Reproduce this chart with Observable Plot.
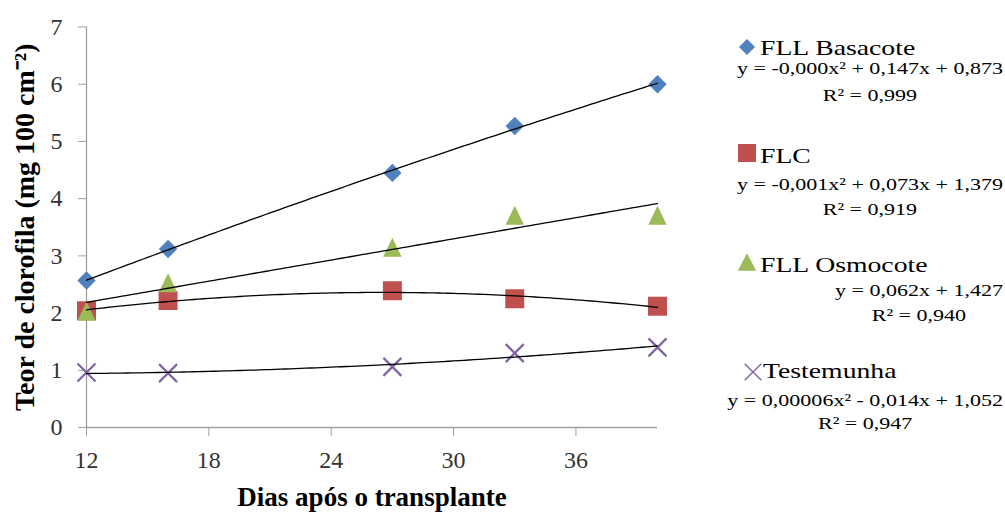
<!DOCTYPE html>
<html><head><meta charset="utf-8">
<script src="https://cdn.jsdelivr.net/npm/d3@7"></script>
<script src="https://cdn.jsdelivr.net/npm/@observablehq/plot@0.6"></script>
<style>
html,body{margin:0;padding:0;background:#fff;}
#wrap{position:relative;width:1005px;height:514px;overflow:hidden;background:#fff;}
#wrap svg{position:absolute;left:0;top:0;}
</style></head><body><div id="wrap"></div>
<script>
// ---- data ----
const days = [12, 16, 27, 33, 40];
const basacote = [2.57, 3.12, 4.45, 5.27, 6.00];
const flc = [2.04, 2.22, 2.39, 2.25, 2.12];
const osmocote = [2.03, 2.53, 3.15, 3.71, 3.71];
const testemunha = [0.96, 0.95, 1.06, 1.30, 1.40];
const seriesNames = ["FLL Basacote", "FLC", "FLL Osmocote", "Testemunha"];
const equations = ["y = -0,000x² + 0,147x + 0,873", "y = -0,001x² + 0,073x + 1,379", "y = 0,062x + 1,427", "y = 0,00006x² - 0,014x + 1,052"];
const r2Labels = ["R² = 0,999", "R² = 0,919", "R² = 0,940", "R² = 0,947"];
const fitDegrees = [2, 2, 1, 2];
const xTicks = [12, 18, 24, 30, 36];
const yTicks = [0, 1, 2, 3, 4, 5, 6, 7];
const xTitle = "Dias após o transplante";
const yTitle = "Teor de clorofila (mg 100 cm⁻²)";

// ---- style ----
const FONT = "'Liberation Serif', 'Times New Roman', serif";
const colors = ["#4F81BD", "#C0504D", "#9BBB59", "#8064A2"];
const seriesValues = [basacote, flc, osmocote, testemunha];

const makeSym = {
  diamond: (h) => ({draw(c){c.moveTo(0,-h);c.lineTo(h,0);c.lineTo(0,h);c.lineTo(-h,0);c.closePath();}}),
  square: (h) => ({draw(c){c.moveTo(-h,-h);c.lineTo(h,-h);c.lineTo(h,h);c.lineTo(-h,h);c.closePath();}}),
  triangle: (w,h) => ({draw(c){c.moveTo(0,-h);c.lineTo(w,h);c.lineTo(-w,h);c.closePath();}}),
  times: (h) => ({draw(c){c.moveTo(-h,-h);c.lineTo(h,h);c.moveTo(h,-h);c.lineTo(-h,h);}})
};
const plotSymbols = [makeSym.diamond(9.2), makeSym.square(9.5), makeSym.triangle(9.2, 9.5), makeSym.times(9)];
const legendSymbols = [makeSym.diamond(8), makeSym.square(9), makeSym.triangle(9.2, 8.7), makeSym.times(8.3)];

function polyfit(xs, ys, deg) {
  const n = deg + 1;
  const A = Array.from({length: n}, () => new Array(n + 1).fill(0));
  for (let k = 0; k < xs.length; k++) {
    for (let i = 0; i < n; i++) {
      for (let j = 0; j < n; j++) A[i][j] += Math.pow(xs[k], i + j);
      A[i][n] += ys[k] * Math.pow(xs[k], i);
    }
  }
  for (let i = 0; i < n; i++) {
    let p = i;
    for (let r = i + 1; r < n; r++) if (Math.abs(A[r][i]) > Math.abs(A[p][i])) p = r;
    [A[i], A[p]] = [A[p], A[i]];
    for (let r = 0; r < n; r++) if (r !== i) {
      const f = A[r][i] / A[i][i];
      for (let c = i; c <= n; c++) A[r][c] -= f * A[i][c];
    }
  }
  return A.map((row, i) => row[n] / row[i]);
}

const rows = seriesNames.flatMap((name, i) => days.map((d, j) => ({series: name, day: d, value: seriesValues[i][j]})));
const xs = d3.range(d3.min(days), d3.max(days) + 1e-9, 0.25);
const fitRows = seriesNames.flatMap((name, i) => {
  const coef = polyfit(days, seriesValues[i], fitDegrees[i]);
  return xs.map(x => ({series: name, day: x, value: coef.reduce((s, c, k) => s + c * Math.pow(x, k), 0)}));
});

const dotMarks = seriesNames.map((name, i) => {
  const data = rows.filter(r => r.series === name);
  if (i === 3) return Plot.dot(data, {x: "day", y: "value", symbol: plotSymbols[i], r: 9, fill: "none", stroke: colors[i], strokeWidth: 2.2});
  return Plot.dot(data, {x: "day", y: "value", symbol: plotSymbols[i], r: 9, fill: colors[i], stroke: "none"});
});

const chart = Plot.plot({
  width: 1005, height: 514,
  marginLeft: 86, marginRight: 348, marginTop: 26.5, marginBottom: 87,
  x: {domain: [12, 40]},
  y: {domain: [0, 7]},
  style: {fontFamily: FONT, background: "transparent", overflow: "visible"},
  marks: [
    Plot.ruleY([0], {stroke: "#a0a0a0", strokeWidth: 1.3}),
    Plot.ruleX([12], {stroke: "#a0a0a0", strokeWidth: 1.3}),
    Plot.axisX(xTicks, {tickSize: 9, tickPadding: 14, stroke: "#a0a0a0", fill: "#333", fontSize: 24, label: null, tickFormat: d3.format("d")}),
    Plot.axisY(yTicks, {tickSize: 8, tickPadding: 16, stroke: "#a0a0a0", fill: "#333", fontSize: 24, label: null, tickFormat: d3.format("d")}),
    ...dotMarks,
    Plot.line(fitRows, {x: "day", y: "value", z: "series", stroke: "#000", strokeWidth: 1.3}),
    Plot.text([yTitle], {frameAnchor: "left", dx: -61, rotate: -90, textAnchor: "middle", lineAnchor: "middle", text: d => d, fontSize: 28, fontWeight: "bold", fill: "#000"}),
    Plot.text([xTitle], {frameAnchor: "bottom", dy: 70, textAnchor: "middle", lineAnchor: "middle", text: d => d, fontSize: 27, fontWeight: "bold", fill: "#000"})
  ]
});
document.getElementById("wrap").appendChild(chart);

// ---- legend ----
const legendLayout = [
  {mx: 747, my: 47, nx: 760, ny: 55, ey: 74, ry: 101},
  {mx: 747, my: 153, nx: 760, ny: 163, ey: 190, ry: 215},
  {mx: 747, my: 262, nx: 760, ny: 272, ey: 296, ry: 321},
  {mx: 753, my: 372, nx: 763, ny: 378, ey: 405.5, ry: 429}
];
const SX = 1.26;
const EQ_RIGHT = 1003;
const legend = d3.select("#wrap").append("svg")
  .attr("width", 1005).attr("height", 514)
  .style("font-family", FONT);
seriesNames.forEach((name, i) => {
  const L = legendLayout[i];
  const path = d3.symbol(legendSymbols[i], 64)();
  legend.append("path").attr("d", path)
    .attr("transform", `translate(${L.mx},${L.my})`)
    .attr("fill", i === 3 ? "none" : colors[i])
    .attr("stroke", i === 3 ? colors[i] : "none")
    .attr("stroke-width", i === 3 ? 1.4 : 0);
  legend.append("text").text(name)
    .attr("transform", `translate(${L.nx},${L.ny}) scale(${SX},1)`)
    .attr("font-size", 22).attr("fill", "#000");
  const eq = legend.append("text").text(equations[i])
    .attr("transform", `translate(${EQ_RIGHT},${L.ey}) scale(${SX},1)`)
    .attr("text-anchor", "end")
    .attr("font-size", 17.5).attr("fill", "#000");
  const w = eq.node().getComputedTextLength() * SX;
  legend.append("text").text(r2Labels[i])
    .attr("transform", `translate(${EQ_RIGHT - w / 2},${L.ry}) scale(${SX},1)`)
    .attr("text-anchor", "middle")
    .attr("font-size", 17.5).attr("fill", "#000");
});
</script>
</body></html>
